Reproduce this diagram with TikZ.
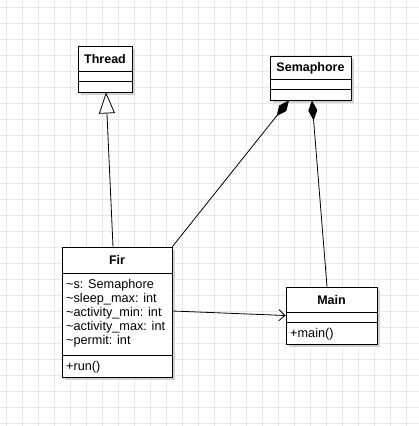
\documentclass[tikz,border=0pt]{standalone}
\usepackage{fontspec}
\setmainfont{Liberation Sans}
\usetikzlibrary{arrows.meta}
\begin{document}
\begin{tikzpicture}[x=1pt,y=-1pt,
  font=\fontsize{12.7}{14}\selectfont,
  umlbox/.style={draw=black, line width=0.9pt, fill=white, rectangle, inner sep=0pt},
  title/.style={font=\fontsize{12.5}{14}\selectfont\bfseries, inner sep=0pt, anchor=center},
  member/.style={inner sep=0pt, anchor=base west},
  conn/.style={draw=black, line width=0.8pt},
  inherit/.style={conn, -{Triangle[open, length=21pt, width=16pt, fill=white]}},
  compose/.style={conn, -{Diamond[length=20pt, width=9pt, fill=black]}},
  assoc/.style={conn, -{Straight Barb[length=6pt, width=11pt]}},
  gridline/.style={draw=black!9, line width=1pt}
]
% canvas and grid
\fill[white] (0,0) rectangle (419,426);
\useasboundingbox (0,0) rectangle (419,426);
\foreach \gx in {6,22,...,418} \draw[gridline] (\gx,0) -- (\gx,426);
\foreach \gy in {7,23,...,425} \draw[gridline] (0,\gy) -- (419,\gy);

% drop shadows
\foreach \xa/\ya/\xb/\yb in {78/46/132/92, 270/56/351/100, 62/247/172/377, 286/287/377/344}
  \fill[black!18] (\xa+3,\ya+3) rectangle (\xb+3,\yb+3);

% Thread
\node[umlbox, minimum width=54pt, minimum height=46pt] (thread) at (105,69) {};
\node[title] (threadT) at (105,59) {Thread};
\draw[line width=0.9pt] (78,71.5) -- (132,71.5) (78,81.5) -- (132,81.5);

% Semaphore
\node[umlbox, minimum width=81pt, minimum height=44pt] (sem) at (310.5,78) {};
\node[title] (semT) at (310.5,68) {Semaphore};
\draw[line width=0.9pt] (270,79.5) -- (351,79.5) (270,89.5) -- (351,89.5);

% Fir
\node[umlbox, minimum width=110pt, minimum height=130pt] (fir) at (117,312) {};
\node[title] (firT) at (117,260) {Fir};
\draw[line width=0.9pt] (62,273) -- (172,273) (62,355) -- (172,355);
\node[member] (fa1) at (66,288) {\textasciitilde s: Semaphore};
\node[member] (fa2) at (66,302) {\textasciitilde sleep\_max: int};
\node[member] (fa3) at (66,316) {\textasciitilde activity\_min: int};
\node[member] (fa4) at (66,330) {\textasciitilde activity\_max: int};
\node[member] (fa5) at (66,344) {\textasciitilde permit: int};
\node[member] (fm1) at (66,370) {+run()};

% Main
\node[umlbox, minimum width=91pt, minimum height=57pt] (main) at (331.5,315.5) {};
\node[title] (mainT) at (331.5,300) {Main};
\draw[line width=0.9pt] (286,312) -- (377,312) (286,322) -- (377,322);
\node[member] (mm1) at (290,337) {+main()};

% relations
\draw[inherit] ([xshift=-4pt]fir.north) -- ([xshift=1pt]thread.south);
\draw[compose] (fir.north east) -- ([xshift=-21.5pt]sem.south);
\draw[compose] ([xshift=-4.5pt]main.north) -- ([xshift=1.5pt]sem.south);
\draw[assoc] ([yshift=1pt]fir.east) -- (main.west);
\end{tikzpicture}
\end{document}
